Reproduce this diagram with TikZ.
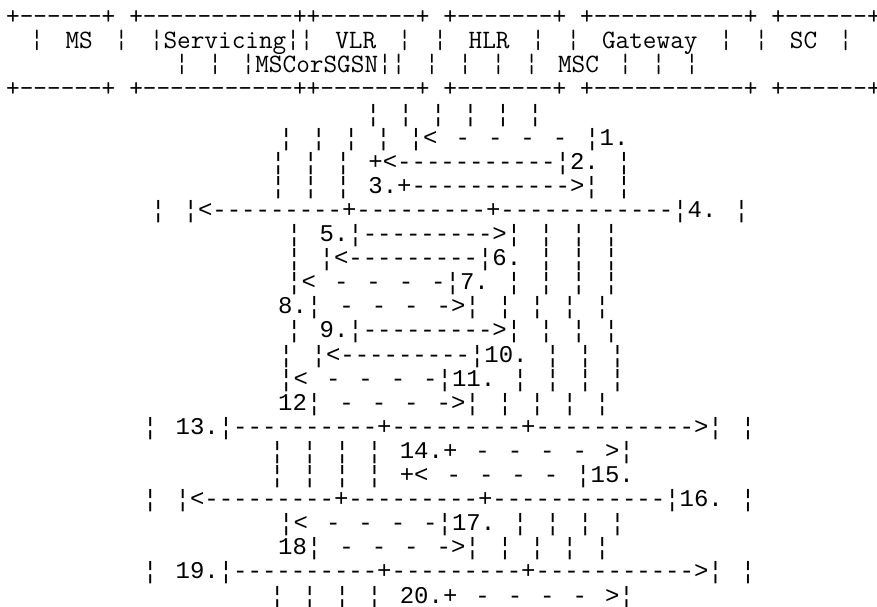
\documentclass[tikz,border=0pt]{standalone}
\usepackage{fontspec}
\newfontfamily\flowfont{Liberation Mono}[Ligatures=TeXOff]
\usetikzlibrary{positioning}

\begin{document}
\begin{tikzpicture}[
    x=1pt, y=-1pt,
    boxrow/.style={anchor=west, inner sep=0pt, text height=17pt, text depth=5pt,
        font=\ttfamily\fontsize{26.5}{26.5}\selectfont,
        execute at begin node={\frenchspacing\spaceskip=#1\relax}},
    boxrow/.default=13.9pt,
    flowrow/.style={anchor=west, inner sep=0pt, text height=17pt, text depth=5pt,
        font=\flowfont\fontsize{24}{24}\selectfont,
        execute at begin node={\frenchspacing\spaceskip=18pt\relax}}
]
\clip (0,0) rectangle (877,606);

% entity boxes
\node[boxrow] (boxtop) at (6,18) {+------+ +-----------++-------+ +-------+ +-----------+ +------+};
\node[boxrow=21.7pt] (boxname) at (30,42) {¦ MS ¦ ¦Servicing¦¦ VLR ¦ ¦ HLR ¦ ¦ Gateway ¦ ¦ SC ¦};
\node[boxrow=19.6pt] (boxsub) at (175,66) {¦ ¦ ¦MSCorSGSN¦¦ ¦ ¦ ¦ ¦ MSC ¦ ¦ ¦};
\node[boxrow] (boxbot) at (6,90) {+------+ +-----------++-------+ +-------+ +-----------+ +------+};

% message flow
\node[flowrow] (life)  at (366,115)   {¦ ¦ ¦ ¦ ¦ ¦};
\node[flowrow] (msg1)  at (279,139.1) {¦ ¦ ¦ ¦ ¦< - - - - ¦1.};
\node[flowrow] (msg2)  at (271,163.2) {¦ ¦ ¦ +<-----------¦2. ¦};
\node[flowrow] (msg3)  at (271,187.3) {¦ ¦ ¦ 3.+----------->¦ ¦};
\node[flowrow] (msg4)  at (151,211.4) {¦ ¦<---------+---------+------------¦4. ¦};
\node[flowrow] (msg5)  at (287,235.5) {¦ 5.¦--------->¦ ¦ ¦ ¦};
\node[flowrow] (msg6)  at (287,259.6) {¦ ¦<---------¦6. ¦ ¦ ¦};
\node[flowrow] (msg7)  at (287,283.7) {¦< - - - -¦7. ¦ ¦ ¦ ¦};
\node[flowrow] (msg8)  at (278,307.8) {8.¦ - - - ->¦ ¦ ¦ ¦ ¦};
\node[flowrow] (msg9)  at (287,331.9) {¦ 9.¦--------->¦ ¦ ¦ ¦};
\node[flowrow] (msg10) at (279,356)   {¦ ¦<---------¦10. ¦ ¦ ¦};
\node[flowrow] (msg11) at (279,380.1) {¦< - - - -¦11. ¦ ¦ ¦ ¦};
\node[flowrow] (msg12) at (278,404.2) {12¦ - - - ->¦ ¦ ¦ ¦ ¦};
\node[flowrow] (msg13) at (143,428.3) {¦ 13.¦----------+---------+----------->¦ ¦};
\node[flowrow] (msg14) at (270,452.4) {¦ ¦ ¦ ¦ 14.+ - - - - >¦};
\node[flowrow] (msg15) at (270,476.5) {¦ ¦ ¦ ¦ +< - - - - ¦15.};
\node[flowrow] (msg16) at (143,500.6) {¦ ¦<---------+---------+------------¦16. ¦};
\node[flowrow] (msg17) at (279,524.7) {¦< - - - -¦17. ¦ ¦ ¦ ¦};
\node[flowrow] (msg18) at (278,548.8) {18¦ - - - ->¦ ¦ ¦ ¦ ¦};
\node[flowrow] (msg19) at (143,572.9) {¦ 19.¦----------+---------+----------->¦ ¦};
\node[flowrow] (msg20) at (270,597)   {¦ ¦ ¦ ¦ 20.+ - - - - >¦};
\end{tikzpicture}
\end{document}
